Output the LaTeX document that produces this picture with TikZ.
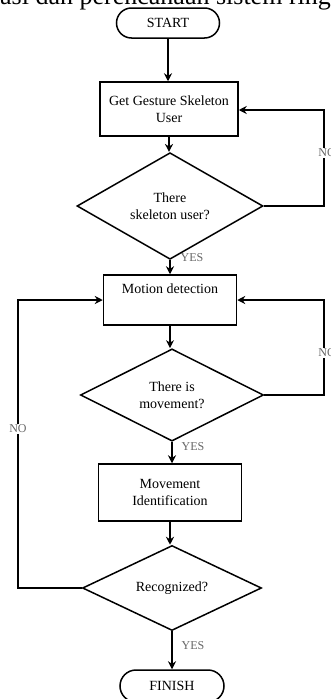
\documentclass[tikz,border=0pt]{standalone}
\usepackage{fontspec}
\setmainfont{Liberation Serif}
\usetikzlibrary{shapes.geometric,shapes.misc,arrows.meta}
\begin{document}
\begin{tikzpicture}[x=1pt,y=-1pt,
  every node/.style={font=\fontsize{14}{17}\selectfont},
  term/.style={rounded rectangle,draw,line width=1.5pt,inner sep=0pt},
  proc/.style={rectangle,draw,line width=1.5pt,align=center,inner sep=0pt},
  dec/.style={diamond,draw,line width=1.5pt,align=center,inner sep=0pt},
  arr/.style={line width=1.6pt,-{Stealth[length=8pt,width=8pt]}},
  lbl/.style={font=\fontsize{12}{14}\selectfont,text=black!60,fill=white,inner sep=1pt}]
\useasboundingbox (0,0) rectangle (330,699);
\clip (0,0) rectangle (330,699);
\node[anchor=base west,inner sep=0pt,font=\fontsize{26}{30}\selectfont] (head) at (0,4) {asi dan perencanaan sistem ringa};
\node[term,minimum width=103pt,minimum height=30pt] (start) at (168,23) {START};
\node[proc,minimum width=138pt,minimum height=54pt] (b1) at (169,109) {Get Gesture Skeleton\\User};
\node[dec,minimum width=186pt,minimum height=82pt] (d1) at (170,206) {There\\skeleton user?};
\node[proc,minimum width=133pt,minimum height=50pt] (b2) at (170,300) {Motion detection\\\strut};
\node[dec,minimum width=183pt,minimum height=80pt] (d2) at (172,395) {There is\\movement?};
\node[proc,minimum width=143pt,minimum height=57pt] (b3) at (170,492.5) {Movement\\Identification};
\node[dec,minimum width=179pt,minimum height=78pt] (d3) at (172,588) {Recognized?};
\node[term,minimum width=104pt,minimum height=32pt] (finish) at (172,686) {FINISH};
\draw[arr] (start.south) -- (start.south |- b1.north);
\draw[arr] (b1.south) -- (b1.south |- d1.north);
\draw[arr] (d1.south) -- (d1.south |- b2.north);
\draw[arr] (b2.south) -- (b2.south |- d2.north);
\draw[arr] (d2.south) -- (d2.south |- b3.north);
\draw[arr] (b3.south) -- (b3.south |- d3.north);
\draw[arr] (d3.south) -- (d3.south |- finish.north);
\coordinate (r1) at (324,110);
\coordinate (r2) at (324,300);
\coordinate (l3) at (18,300);
\draw[arr] (d1.east) -| (r1) -- (r1 -| b1.east);
\draw[arr] (d2.east) -| (r2) -- (r2 -| b2.east);
\draw[arr] (d3.west) -| (l3) -- (l3 -| b2.west);
\node[lbl] (no1) at (327,153) {NO};
\node[lbl] (no2) at (327,353) {NO};
\node[lbl] (no3) at (18,429) {NO};
\node[lbl,fill=none] (y1) at (192,258) {YES};
\node[lbl,fill=none] (y2) at (193,447) {YES};
\node[lbl,fill=none] (y3) at (193,646) {YES};
\end{tikzpicture}
\end{document}
